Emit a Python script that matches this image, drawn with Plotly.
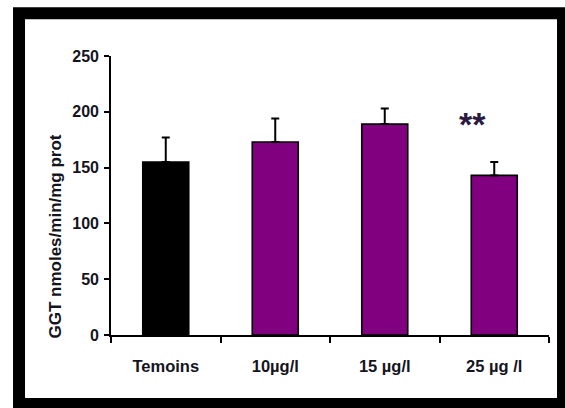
import plotly.graph_objects as go

# GGT activity per group (mean and upper SEM)
groups = ["Temoins", "10µg/l", "15 µg/l", "25 µg /l"]
ggt_mean = [155, 173, 189, 143]
ggt_err = [22, 21, 14, 12]
bar_colors = ["#000000", "#800080", "#800080", "#800080"]
y_ticks = [0, 50, 100, 150, 200, 250]
signif_label = "**"
signif_pos = (2.8, 189)

FONT = "Liberation Sans, Arial, sans-serif"
INK = "#141420"

fig = go.Figure(
    go.Bar(
        x=groups,
        y=ggt_mean,
        width=0.42,
        marker=dict(color=bar_colors, line=dict(color="black", width=1.6)),
        error_y=dict(
            type="data",
            symmetric=False,
            array=ggt_err,
            arrayminus=[0] * len(ggt_err),
            color="black",
            thickness=2,
            width=4,
        ),
    )
)

fig.update_layout(
    width=565,
    height=408,
    margin=dict(l=111, r=16, t=56, b=73),
    paper_bgcolor="white",
    plot_bgcolor="white",
    showlegend=False,
    font=dict(family=FONT, size=16, color=INK, weight="bold"),
    xaxis=dict(
        type="category",
        range=[-0.5, 3.5],
        showline=True,
        linecolor="black",
        linewidth=1.6,
        ticks="outside",
        tickson="boundaries",
        ticklen=6,
        tickwidth=1.6,
        tickcolor="black",
        ticklabelstandoff=15,
        tickfont=dict(family=FONT, size=16.5, color=INK, weight="bold"),
        showgrid=False,
        zeroline=False,
    ),
    yaxis=dict(
        range=[0, 250],
        tickvals=y_ticks,
        showline=True,
        linecolor="black",
        linewidth=1.6,
        ticks="outside",
        ticklen=5,
        tickwidth=1.6,
        tickcolor="black",
        ticklabelstandoff=2,
        tickfont=dict(family=FONT, size=16, color=INK, weight="bold"),
        showgrid=False,
        zeroline=False,
    ),
)

# y-axis title, rotated and set slightly low beside the axis
fig.add_annotation(
    text="GGT nmoles/min/mg prot",
    xref="paper", yref="paper",
    x=-0.1256, y=0.353,
    xanchor="center", yanchor="middle",
    textangle=-90,
    showarrow=False,
    font=dict(family=FONT, size=17, color=INK, weight="bold"),
)

# significance marker over the 25 µg/l group
fig.add_annotation(
    text=signif_label,
    x=signif_pos[0], y=signif_pos[1],
    xref="x", yref="y",
    showarrow=False,
    font=dict(family=FONT, size=34, color="#2b1a40"),
)

# heavy black frame around the whole figure
fig.add_shape(
    type="rect",
    xref="paper", yref="paper",
    x0=-0.2100, x1=1.0320, y0=-0.2473, y1=1.1530,
    line=dict(color="black", width=12),
    fillcolor="rgba(0,0,0,0)",
    layer="above",
)

fig.write_html("out.html")
